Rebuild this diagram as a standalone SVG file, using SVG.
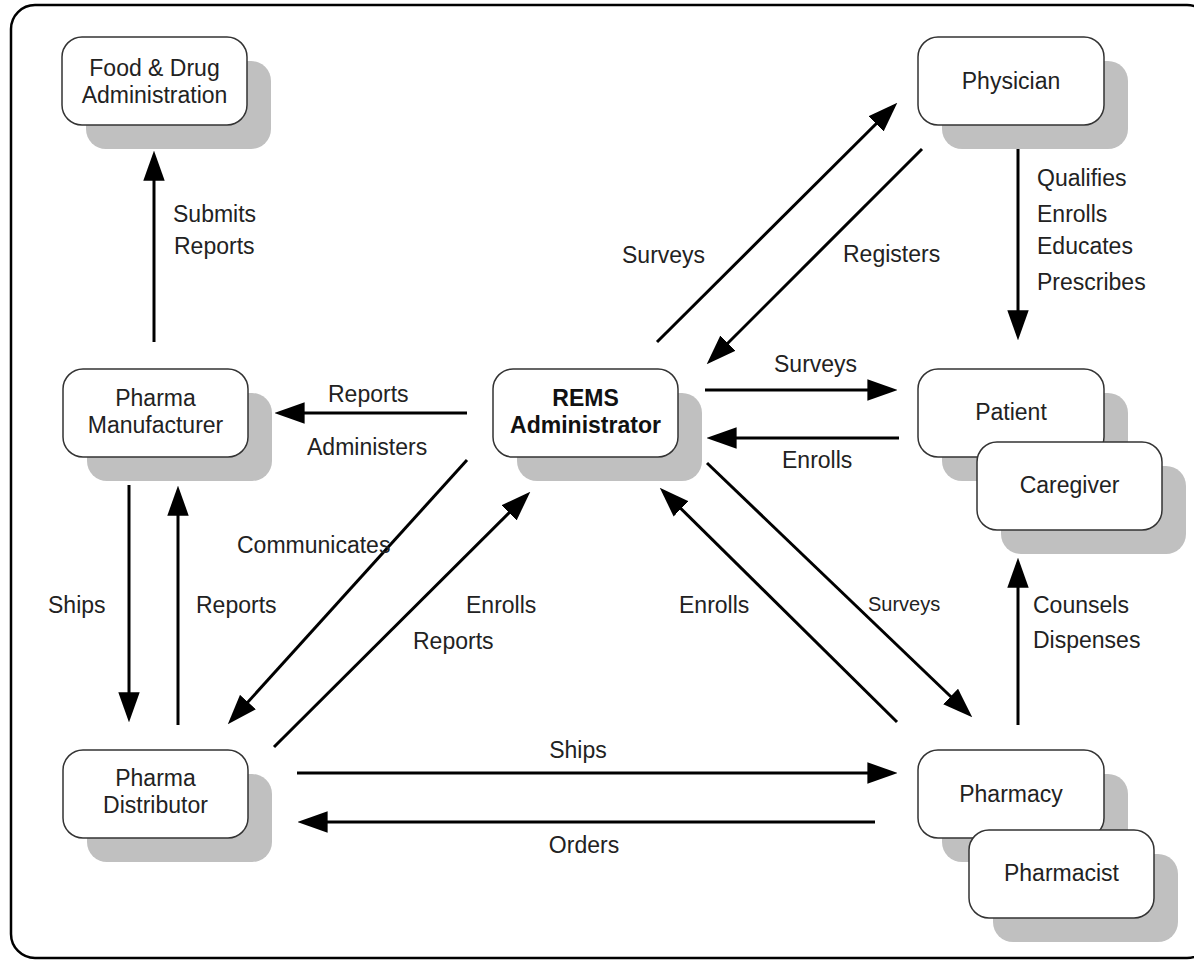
<svg xmlns="http://www.w3.org/2000/svg" width="1194" height="962" viewBox="0 0 1194 962">
<style>
.frame{fill:#fff;stroke:#000;stroke-width:2.5}
.sh{fill:#c0c0c0}
.box{fill:#fff;stroke:#333;stroke-width:1.5}
.nt{font-family:"Liberation Sans",Arial,sans-serif;font-size:23px;fill:#222;text-anchor:middle}
.b{font-weight:bold;fill:#111}
.lb{font-family:"Liberation Sans",Arial,sans-serif;font-size:23px;fill:#222}
.c{stroke:#000;stroke-width:3;fill:none;marker-end:url(#ah)}
</style>
<defs>
<marker id="ah" markerUnits="userSpaceOnUse" markerWidth="30" markerHeight="22" refX="23" refY="10" orient="auto" viewBox="0 0 28 20">
<path d="M0,0 L28,10 L0,20 Z" fill="#000"/>
</marker>
</defs>
<rect class="frame" x="11" y="5" width="1200" height="953" rx="24"/>

<g id="fda">
<rect class="sh" x="86" y="61" width="185" height="88" rx="20"/>
<rect class="box" x="62" y="37" width="185" height="88" rx="20"/>
<text class="nt" x="154.5" y="76">Food &amp; Drug</text>
<text class="nt" x="154.5" y="103">Administration</text>
</g>
<g id="physician">
<rect class="sh" x="942" y="61" width="186" height="88" rx="20"/>
<rect class="box" x="918" y="37" width="186" height="88" rx="20"/>
<text class="nt" x="1011" y="89">Physician</text>
</g>
<g id="manufacturer">
<rect class="sh" x="87" y="393" width="185" height="88" rx="20"/>
<rect class="box" x="63" y="369" width="185" height="88" rx="20"/>
<text class="nt" x="155.5" y="406">Pharma</text>
<text class="nt" x="155.5" y="433">Manufacturer</text>
</g>
<g id="rems">
<rect class="sh" x="517" y="393" width="185" height="88" rx="20"/>
<rect class="box" x="493" y="369" width="185" height="88" rx="20"/>
<text class="nt b" x="585.5" y="406">REMS</text>
<text class="nt b" x="585.5" y="433">Administrator</text>
</g>
<g id="patient">
<rect class="sh" x="942" y="393" width="186" height="88" rx="20"/>
<rect class="box" x="918" y="369" width="186" height="88" rx="20"/>
<text class="nt" x="1011" y="420">Patient</text>
</g>
<g id="caregiver">
<rect class="sh" x="1001" y="466" width="185" height="88" rx="20"/>
<rect class="box" x="977" y="442" width="185" height="88" rx="20"/>
<text class="nt" x="1069.5" y="493">Caregiver</text>
</g>
<g id="distributor">
<rect class="sh" x="87" y="774" width="185" height="88" rx="20"/>
<rect class="box" x="63" y="750" width="185" height="88" rx="20"/>
<text class="nt" x="155.5" y="786">Pharma</text>
<text class="nt" x="155.5" y="813">Distributor</text>
</g>
<g id="pharmacy">
<rect class="sh" x="942" y="774" width="186" height="88" rx="20"/>
<rect class="box" x="918" y="750" width="186" height="88" rx="20"/>
<text class="nt" x="1011" y="802">Pharmacy</text>
</g>
<g id="pharmacist">
<rect class="sh" x="993" y="854" width="185" height="88" rx="20"/>
<rect class="box" x="969" y="830" width="185" height="88" rx="20"/>
<text class="nt" x="1061.5" y="881">Pharmacist</text>
</g>

<g id="connectors">
<line class="c" x1="154" y1="342" x2="154" y2="156"/>
<line class="c" x1="657" y1="342" x2="893.5" y2="106.5"/>
<line class="c" x1="922" y1="149" x2="710.5" y2="360.5"/>
<line class="c" x1="705" y1="390" x2="892" y2="390"/>
<line class="c" x1="899" y1="438" x2="712" y2="438"/>
<line class="c" x1="467" y1="413" x2="280" y2="413"/>
<line class="c" x1="1018" y1="149" x2="1018" y2="335"/>
<line class="c" x1="129" y1="485" x2="129" y2="717"/>
<line class="c" x1="178" y1="725" x2="178" y2="491"/>
<line class="c" x1="467" y1="460" x2="231.4" y2="720.3"/>
<line class="c" x1="274" y1="747" x2="526.5" y2="495.5"/>
<line class="c" x1="897" y1="722" x2="663.6" y2="491.5"/>
<line class="c" x1="707" y1="463" x2="968.4" y2="713.5"/>
<line class="c" x1="1018" y1="725" x2="1018" y2="563"/>
<line class="c" x1="297" y1="773" x2="892" y2="773"/>
<line class="c" x1="875" y1="822" x2="303" y2="822"/>

<text class="lb" x="173" y="222">Submits</text>
<text class="lb" x="174" y="254">Reports</text>
<text class="lb" x="622" y="263">Surveys</text>
<text class="lb" x="843" y="262">Registers</text>
<text class="lb" x="774" y="372">Surveys</text>
<text class="lb" x="782" y="468">Enrolls</text>
<text class="lb" x="328" y="402">Reports</text>
<text class="lb" x="307" y="455">Administers</text>
<text class="lb" x="1037" y="186">Qualifies</text>
<text class="lb" x="1037" y="222">Enrolls</text>
<text class="lb" x="1037" y="254">Educates</text>
<text class="lb" x="1037" y="290">Prescribes</text>
<text class="lb" x="48" y="613">Ships</text>
<text class="lb" x="196" y="613">Reports</text>
<text class="lb" x="237" y="553">Communicates</text>
<text class="lb" x="466" y="613">Enrolls</text>
<text class="lb" x="413" y="649">Reports</text>
<text class="lb" x="679" y="613">Enrolls</text>
<text class="lb" x="868" y="611" style="font-size:20px">Surveys</text>
<text class="lb" x="1033" y="613">Counsels</text>
<text class="lb" x="1033" y="648">Dispenses</text>
<text class="lb" x="578" y="758" text-anchor="middle">Ships</text>
<text class="lb" x="584" y="853" text-anchor="middle">Orders</text>
</g>
</svg>
